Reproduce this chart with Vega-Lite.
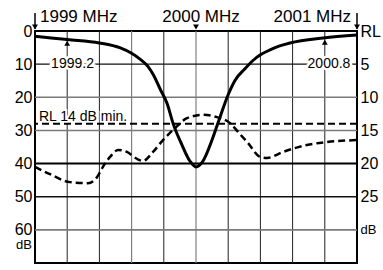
{
  "$schema": "https://vega.github.io/schema/vega-lite/v6.json",
  "width": 322,
  "height": 232,
  "autosize": "none",
  "padding": {"left": 35, "top": 31, "right": 26, "bottom": 7},
  "config": {
    "view": {"stroke": "black", "strokeWidth": 2},
    "font": "Liberation Sans",
    "axis": {"labelColor": "black", "labelFont": "Liberation Sans", "ticks": false, "domain": false, "title": null, "grid": false, "labelOverlap": false, "labelBound": false, "labelFlush": false}
  },
  "datasets": {
    "vDark": [{"f": 1999.2}, {"f": 1999.4}, {"f": 1999.8}, {"f": 2000.2}, {"f": 2000.4}, {"f": 2000.6}, {"f": 2000.8}],
    "vLight": [{"f": 1999.6}, {"f": 2000.0}],
    "hDark": [{"v": 10}, {"v": 50}],
    "hLight": [{"v": 20}, {"v": 30}, {"v": 60}],
    "hThick": [{"v": 40}],
    "solid": [
      {"f": 1999.0, "v": 1.6}, {"f": 1999.2, "v": 2.6}, {"f": 1999.4, "v": 3.6},
      {"f": 1999.53, "v": 5.1}, {"f": 1999.6, "v": 6.7}, {"f": 1999.65, "v": 8.4},
      {"f": 1999.7, "v": 10.6}, {"f": 1999.735, "v": 13.2}, {"f": 1999.78, "v": 17.8},
      {"f": 1999.82, "v": 21.8}, {"f": 1999.857, "v": 27.8}, {"f": 1999.913, "v": 34.4},
      {"f": 1999.963, "v": 39.3}, {"f": 2000.0, "v": 41.0}, {"f": 2000.04, "v": 39.5},
      {"f": 2000.1, "v": 32.8}, {"f": 2000.149, "v": 26.0}, {"f": 2000.199, "v": 19.3},
      {"f": 2000.242, "v": 14.9}, {"f": 2000.304, "v": 11.4}, {"f": 2000.354, "v": 8.9},
      {"f": 2000.4, "v": 7.2}, {"f": 2000.46, "v": 5.7}, {"f": 2000.52, "v": 4.5},
      {"f": 2000.584, "v": 3.6}, {"f": 2000.79, "v": 2.1}, {"f": 2001.0, "v": 1.2}
    ],
    "dashed": [
      {"f": 1999.0, "v": 41.0}, {"f": 1999.093, "v": 43.2}, {"f": 1999.217, "v": 45.6},
      {"f": 1999.329, "v": 45.9}, {"f": 1999.385, "v": 44.1}, {"f": 1999.422, "v": 41.0},
      {"f": 1999.466, "v": 38.0}, {"f": 1999.516, "v": 35.9}, {"f": 1999.571, "v": 36.5},
      {"f": 1999.634, "v": 38.6}, {"f": 1999.671, "v": 39.2}, {"f": 1999.733, "v": 36.5},
      {"f": 1999.795, "v": 32.9}, {"f": 1999.87, "v": 29.3}, {"f": 1999.944, "v": 26.3},
      {"f": 2000.043, "v": 25.3}, {"f": 2000.13, "v": 26.0}, {"f": 2000.211, "v": 27.8},
      {"f": 2000.273, "v": 31.1}, {"f": 2000.323, "v": 33.8}, {"f": 2000.398, "v": 38.0},
      {"f": 2000.441, "v": 38.3}, {"f": 2000.54, "v": 36.5}, {"f": 2000.689, "v": 34.4},
      {"f": 2000.814, "v": 33.5}, {"f": 2001.0, "v": 32.9}
    ],
    "arrows": [{"f": 1999.0, "a": -5.4, "b": -0.6}, {"f": 2001.0, "a": -5.4, "b": -0.6}],
    "down": [{"f": 1999.0, "v": -1.2}, {"f": 2000.0, "v": -1.2}, {"f": 2001.0, "v": -1.2}],
    "up": [{"f": 1999.2, "v": 3.7}, {"f": 2000.8, "v": 3.4}],
    "ann": [{"f": 1999.233, "v": 10, "t": "1999.2"}, {"f": 2000.826, "v": 10, "t": "2000.8"}],
    "rltext": [{"f": 1999.0, "v": 27.3, "t": "RL 14 dB min."}],
    "topL": [{"f": 1999.0, "v": -2.8, "t": "1999 MHz"}],
    "topC": [{"f": 2000.0, "v": -2.8, "t": "2000 MHz"}],
    "topR": [{"f": 2001.0, "v": -2.8, "t": "2001 MHz"}],
    "dbL": [{"f": 1999.0, "v": 64.6, "t": "dB"}],
    "rl": [{"v": 28}]
  },
  "layer": [
    {
      "data": {"name": "vDark"},
      "mark": {"type": "rule", "color": "#222222", "strokeWidth": 1},
      "encoding": {
        "x": {"field": "f", "type": "quantitative", "scale": {"domain": [1999, 2001], "nice": false, "zero": false}, "axis": null}
      }
    },
    {
      "data": {"name": "vLight"},
      "mark": {"type": "rule", "color": "#808080", "strokeWidth": 1.2},
      "encoding": {"x": {"field": "f", "type": "quantitative"}}
    },
    {
      "data": {"name": "hDark"},
      "mark": {"type": "rule", "color": "#111111", "strokeWidth": 1.4},
      "encoding": {
        "y": {
          "field": "v", "type": "quantitative",
          "scale": {"domain": [0, 70], "reverse": true, "nice": false, "zero": false},
          "axis": {
            "orient": "left",
            "values": [0, 10, 20, 30, 40, 50, 60],
            "labelExpr": "format(datum.value, 'd')",
            "labelFontSize": 16,
            "labelPadding": 3
          }
        }
      }
    },
    {
      "data": {"name": "hLight"},
      "mark": {"type": "rule", "color": "#7a7a7a", "strokeWidth": 1.6},
      "encoding": {"y": {"field": "v", "type": "quantitative", "scale": {"domain": [0, 70], "reverse": true, "nice": false, "zero": false}, "axis": null}}
    },
    {
      "data": {"name": "hThick"},
      "mark": {"type": "rule", "color": "black", "strokeWidth": 2},
      "encoding": {"y": {"field": "v", "type": "quantitative", "scale": {"domain": [0, 70], "reverse": true, "nice": false, "zero": false}, "axis": null}}
    },
    {
      "layer": [
        {
          "data": {"name": "solid"},
          "mark": {"type": "line", "color": "black", "strokeWidth": 3, "interpolate": "monotone"},
          "encoding": {
            "x": {"field": "f", "type": "quantitative"},
            "y": {"field": "v", "type": "quantitative", "scale": {"domain": [0, 70], "reverse": true, "nice": false, "zero": false}, "axis": null}
          }
        },
        {
          "data": {"name": "dashed"},
          "mark": {"type": "line", "color": "black", "strokeWidth": 2.5, "strokeDash": [7, 4], "interpolate": "monotone"},
          "encoding": {
            "x": {"field": "f", "type": "quantitative"},
            "y": {"field": "v", "type": "quantitative"}
          }
        },
        {
          "data": {"name": "arrows"},
          "mark": {"type": "rule", "color": "black", "strokeWidth": 1.5},
          "encoding": {
            "x": {"field": "f", "type": "quantitative"},
            "y": {"field": "a", "type": "quantitative"},
            "y2": {"field": "b"}
          }
        },
        {
          "data": {"name": "down"},
          "mark": {"type": "point", "shape": "triangle-down", "filled": true, "color": "black", "size": 35, "opacity": 1},
          "encoding": {
            "x": {"field": "f", "type": "quantitative"},
            "y": {"field": "v", "type": "quantitative"}
          }
        },
        {
          "data": {"name": "up"},
          "mark": {"type": "point", "shape": "triangle-up", "filled": true, "color": "black", "size": 35, "opacity": 1},
          "encoding": {
            "x": {"field": "f", "type": "quantitative"},
            "y": {"field": "v", "type": "quantitative"}
          }
        },
        {
          "data": {"name": "ann"},
          "mark": {"type": "text", "fontSize": 14, "align": "center", "baseline": "middle", "stroke": "white", "strokeWidth": 5, "fill": "white"},
          "encoding": {
            "x": {"field": "f", "type": "quantitative"},
            "y": {"field": "v", "type": "quantitative"},
            "text": {"field": "t"}
          }
        },
        {
          "data": {"name": "ann"},
          "mark": {"type": "text", "fontSize": 14, "align": "center", "baseline": "middle", "color": "black"},
          "encoding": {
            "x": {"field": "f", "type": "quantitative"},
            "y": {"field": "v", "type": "quantitative"},
            "text": {"field": "t"}
          }
        },
        {
          "data": {"name": "rltext"},
          "mark": {"type": "text", "fontSize": 14, "align": "left", "baseline": "alphabetic", "dx": 4, "stroke": "white", "strokeWidth": 4, "fill": "white"},
          "encoding": {
            "x": {"field": "f", "type": "quantitative"},
            "y": {"field": "v", "type": "quantitative"},
            "text": {"field": "t"}
          }
        },
        {
          "data": {"name": "rltext"},
          "mark": {"type": "text", "fontSize": 14, "align": "left", "baseline": "alphabetic", "dx": 4, "color": "black"},
          "encoding": {
            "x": {"field": "f", "type": "quantitative"},
            "y": {"field": "v", "type": "quantitative"},
            "text": {"field": "t"}
          }
        },
        {
          "data": {"name": "topL"},
          "mark": {"type": "text", "fontSize": 17, "align": "left", "baseline": "alphabetic", "dx": 5, "color": "black"},
          "encoding": {
            "x": {"field": "f", "type": "quantitative"},
            "y": {"field": "v", "type": "quantitative"},
            "text": {"field": "t"}
          }
        },
        {
          "data": {"name": "topC"},
          "mark": {"type": "text", "fontSize": 17, "align": "center", "baseline": "alphabetic", "dx": 5, "color": "black"},
          "encoding": {
            "x": {"field": "f", "type": "quantitative"},
            "y": {"field": "v", "type": "quantitative"},
            "text": {"field": "t"}
          }
        },
        {
          "data": {"name": "topR"},
          "mark": {"type": "text", "fontSize": 17, "align": "right", "baseline": "alphabetic", "dx": -6, "color": "black"},
          "encoding": {
            "x": {"field": "f", "type": "quantitative"},
            "y": {"field": "v", "type": "quantitative"},
            "text": {"field": "t"}
          }
        },
        {
          "data": {"name": "dbL"},
          "mark": {"type": "text", "fontSize": 13, "align": "right", "baseline": "middle", "dx": -3, "color": "black"},
          "encoding": {
            "x": {"field": "f", "type": "quantitative"},
            "y": {"field": "v", "type": "quantitative"},
            "text": {"field": "t"}
          }
        }
      ]
    },
    {
      "data": {"name": "rl"},
      "mark": {"type": "rule", "color": "black", "strokeWidth": 2, "strokeDash": [7, 4]},
      "encoding": {
        "y": {
          "field": "v", "type": "quantitative",
          "scale": {"domain": [0, 70], "reverse": true, "nice": false, "zero": false},
          "axis": {
            "orient": "right",
            "values": [0, 10, 20, 30, 40, 50, 60],
            "labelExpr": "datum.value == 0 ? 'RL' : datum.value == 60 ? 'dB' : format(datum.value / 2, 'd')",
            "labelFontSize": {"condition": {"test": "datum.value == 60", "value": 13}, "value": 16},
            "labelPadding": 3
          }
        }
      }
    }
  ],
  "resolve": {"scale": {"y": "independent"}}
}
